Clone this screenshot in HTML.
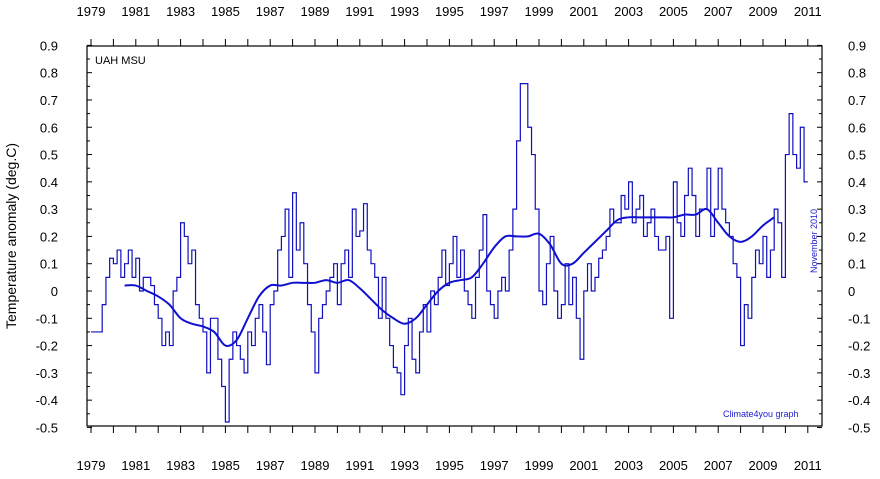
<!DOCTYPE html>
<html><head><meta charset="utf-8"><style>
body{margin:0;background:#fff;}
svg text{font-family:"Liberation Sans",sans-serif;}
</style></head><body>
<svg id="c" width="880" height="474" xmlns="http://www.w3.org/2000/svg">
<rect x="87" y="46" width="735" height="380" fill="#fff" stroke="#000" stroke-width="1.2"/>
<g id="ticks"></g>
<text x="95" y="64" font-size="11">UAH MSU</text>
<text x="723" y="417" font-size="9" fill="#1a1acc">Climate4you graph</text>
<text transform="translate(817,273) rotate(-90)" font-size="9" fill="#1a1acc">November 2010</text>
<text transform="translate(16,236) rotate(-90)" font-size="14" text-anchor="middle">Temperature anomaly (deg.C)</text>
<g id="series"></g>
</svg>
<script>
const startYear = 1979;
const yTicks = [0.9,0.8,0.7,0.6,0.5,0.4,0.3,0.2,0.1,0,-0.1,-0.2,-0.3,-0.4,-0.5];
const yTickLabels = ["0.9","0.8","0.7","0.6","0.5","0.4","0.3","0.2","0.1","0","-0.1","-0.2","-0.3","-0.4","-0.5"];
const xLabelYears = [1979,1981,1983,1985,1987,1989,1991,1993,1995,1997,1999,2001,2003,2005,2007,2009,2011];
// bimonthly anomalies
const anomalies = [
-0.15,-0.15,-0.15,-0.05,0.05,0.12,
0.1,0.15,0.05,0.1,0.15,0.05,
0.12,0.0,0.05,0.05,0.02,-0.05,
-0.1,-0.2,-0.15,-0.2,0.0,0.05,
0.25,0.2,0.1,0.15,-0.05,-0.1,
-0.15,-0.3,-0.1,-0.1,-0.25,-0.35,
-0.48,-0.25,-0.15,-0.2,-0.25,-0.3,
-0.15,-0.2,-0.1,-0.05,-0.15,-0.27,
-0.05,0.0,0.15,0.2,0.3,0.05,
0.36,0.15,0.25,0.1,-0.05,-0.15,
-0.3,-0.1,-0.05,0.0,0.05,0.1,
-0.05,0.1,0.15,0.05,0.3,0.2,
0.22,0.32,0.15,0.1,0.05,-0.1,
0.05,-0.1,-0.2,-0.28,-0.3,-0.38,
-0.2,-0.1,-0.25,-0.3,-0.15,-0.05,
-0.15,0.0,-0.05,0.05,0.15,0.02,
0.1,0.2,0.05,0.15,0.0,-0.05,
-0.1,0.05,0.15,0.28,0.0,-0.05,
-0.1,0.0,0.05,0.0,0.15,0.3,
0.55,0.76,0.76,0.6,0.5,0.3,
0.0,-0.05,0.1,0.2,0.0,-0.1,
-0.05,0.1,-0.05,0.05,-0.1,-0.25,
0.0,0.1,0.0,0.05,0.12,0.15,
0.2,0.3,0.25,0.25,0.35,0.3,
0.4,0.25,0.3,0.35,0.2,0.25,
0.3,0.2,0.15,0.15,0.2,-0.1,
0.4,0.25,0.2,0.35,0.45,0.35,
0.2,0.3,0.3,0.45,0.2,0.3,
0.45,0.3,0.25,0.2,0.1,0.05,
-0.2,-0.05,-0.1,0.05,0.15,0.1,
0.2,0.05,0.15,0.3,0.25,0.05,
0.5,0.65,0.5,0.45,0.6,0.4];
const smoothStart = 1980.5;
const smoothed = [0.02,0.02,0.0,-0.02,-0.05,-0.1,-0.12,-0.13,-0.15,-0.2,-0.18,-0.1,-0.02,0.02,0.02,0.03,0.03,0.03,0.04,0.03,0.04,0.01,-0.03,-0.07,-0.1,-0.12,-0.1,-0.05,0.0,0.03,0.04,0.05,0.1,0.16,0.2,0.2,0.2,0.21,0.17,0.1,0.1,0.14,0.18,0.22,0.26,0.27,0.27,0.27,0.27,0.27,0.28,0.28,0.3,0.25,0.2,0.18,0.2,0.24,0.27];

const NS="http://www.w3.org/2000/svg";
function xs(yr){return 91+(yr-1979)*22.4;}
function ys(v){return 291-v*272.9;}
function mk(t,a,p){const e=document.createElementNS(NS,t);for(const k in a)e.setAttribute(k,a[k]);(p||document.getElementById('ticks')).appendChild(e);return e;}
for(let i=0;i<=28;i++){const v=-0.5+i*0.05;const y=ys(v);const len=(i%2==0)?5:3;
 let l=mk('line',{x1:87,x2:87+len,y1:y,y2:y,stroke:'#000'});
 l=mk('line',{x1:822-len,x2:822,y1:y,y2:y,stroke:'#000'});}
yTicks.forEach((v,i)=>{let t=mk('text',{x:58,y:ys(v)+5,'font-size':13,'text-anchor':'end'});t.textContent=yTickLabels[i];
 t=mk('text',{x:848,y:ys(v)+5,'font-size':13});t.textContent=yTickLabels[i];});
for(let yr=1979;yr<=2011;yr++){const x=xs(yr);
 let l=mk('line',{x1:x,x2:x,y1:426,y2:433,stroke:'#000'});
 l=mk('line',{x1:x,x2:x,y1:39,y2:46,stroke:'#000'});}
xLabelYears.forEach(yr=>{let t=mk('text',{x:xs(yr),y:470,'font-size':13,'text-anchor':'middle'});t.textContent=yr;
 t=mk('text',{x:xs(yr),y:16,'font-size':13,'text-anchor':'middle'});t.textContent=yr;});
const sg=document.getElementById('series');
let d='';anomalies.forEach((v,i)=>{const x0=xs(startYear+i/6),x1=xs(startYear+(i+1)/6),y=ys(v);d+=(i?'L':'M')+x0+','+y+'L'+x1+','+y;});
const p=mk('path',{d:d,fill:'none',stroke:'#1010c0','stroke-width':1.2},sg);


const pts=smoothed.map((v,i)=>[xs(smoothStart+i*0.5),ys(v)]);
let d2='M'+pts[0][0]+','+pts[0][1];
for(let i=0;i<pts.length-1;i++){const p0=pts[Math.max(0,i-1)],p1=pts[i],p2=pts[i+1],p3=pts[Math.min(pts.length-1,i+2)];
 d2+='C'+(p1[0]+(p2[0]-p0[0])/6)+','+(p1[1]+(p2[1]-p0[1])/6)+' '+(p2[0]-(p3[0]-p1[0])/6)+','+(p2[1]-(p3[1]-p1[1])/6)+' '+p2[0]+','+p2[1];}
const pm=mk('path',{d:d2,fill:'none',stroke:'#1010d0','stroke-width':2,'stroke-linejoin':'round'},sg);


</script>
</body></html>
